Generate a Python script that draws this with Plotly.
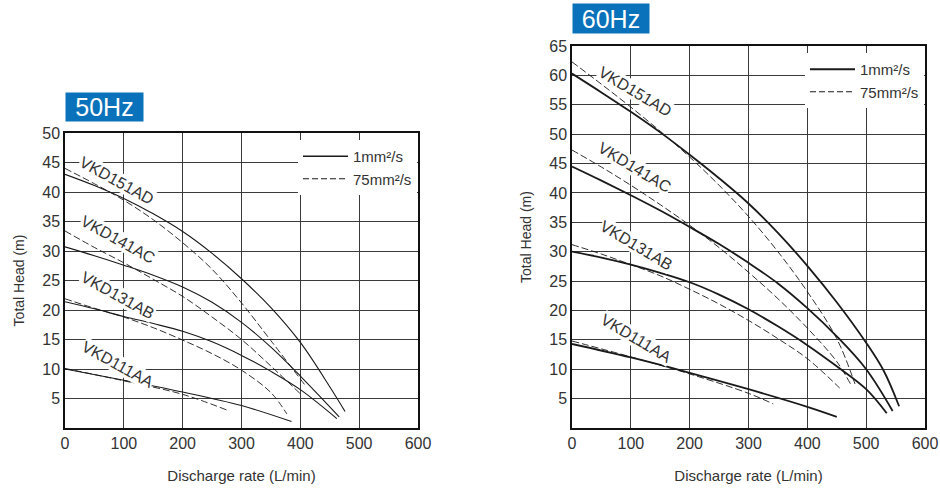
import plotly.graph_objects as go
from plotly.subplots import make_subplots

# ---------------- data ----------------
x_ticks = [0, 100, 200, 300, 400, 500, 600]

# 50 Hz, 1 mm2/s (solid)
hz50_151AD_x = [0, 50, 100, 150, 200, 250, 300, 350, 400, 450, 476]
hz50_151AD_y = [43, 41.1, 38.9, 36.3, 33.3, 29.6, 25.3, 20.4, 14.5, 7.0, 2.8]
hz50_141AC_x = [0, 50, 100, 150, 200, 250, 300, 350, 400, 466]
hz50_141AC_y = [30.7, 29.2, 27.6, 25.9, 23.9, 21.3, 17.9, 13.7, 8.8, 1.9]
hz50_131AB_x = [0, 50, 100, 150, 200, 250, 300, 350, 400, 462]
hz50_131AB_y = [21.4, 20.2, 18.9, 17.7, 16.4, 14.6, 12.3, 9.6, 6.5, 1.6]
hz50_111AA_x = [0, 100, 200, 300, 385]
hz50_111AA_y = [10, 8.1, 6.1, 3.8, 1.1]
# 50 Hz, 75 mm2/s (dashed)
hz50_151AD_vx = [0, 50, 100, 150, 200, 250, 300, 350, 410]
hz50_151AD_vy = [44, 41.4, 38.6, 35.3, 31.4, 26.9, 21.2, 14.8, 7]
hz50_141AC_vx = [0, 50, 100, 150, 200, 250, 300, 350, 400]
hz50_141AC_vy = [33.4, 30.6, 28, 25.2, 22.3, 18.8, 15, 10.5, 5.8]
hz50_131AB_vx = [0, 50, 100, 150, 200, 250, 300, 350, 377]
hz50_131AB_vy = [21.9, 20.3, 18.8, 17, 14.9, 12.6, 9.8, 6.0, 2.4]
hz50_111AA_vx = [0, 100, 200, 275]
hz50_111AA_vy = [10.1, 8.0, 5.7, 3.05]

# 60 Hz, 1 mm2/s (solid)
hz60_151AD_x = [0, 50, 100, 150, 200, 250, 300, 350, 400, 450, 500, 530, 556]
hz60_151AD_y = [60.3, 57.1, 53.8, 50.3, 46.5, 42.5, 38.2, 33.2, 27.6, 21.4, 14.5, 9.7, 3.7]
hz60_141AC_x = [0, 50, 100, 150, 200, 250, 300, 350, 400, 450, 500, 545]
hz60_141AC_y = [44.5, 42.1, 39.6, 37.0, 34.2, 31.3, 28.1, 24.6, 20.4, 15.6, 10.0, 2.9]
hz60_131AB_x = [0, 50, 100, 150, 200, 250, 300, 350, 400, 450, 500, 535]
hz60_131AB_y = [30, 29, 27.8, 26.4, 24.8, 22.7, 20.2, 17.3, 14.1, 10.5, 6.6, 2.5]
hz60_111AA_x = [0, 100, 200, 300, 400, 450]
hz60_111AA_y = [14.3, 12, 9.4, 6.6, 3.6, 1.9]
# 60 Hz, 75 mm2/s (dashed)
hz60_151AD_vx = [0, 50, 100, 150, 200, 250, 300, 350, 400, 450, 481]
hz60_151AD_vy = [62.3, 58.5, 54.6, 50.5, 46.1, 41.3, 36.0, 30.0, 23.2, 15.2, 7.5]
hz60_141AC_vx = [0, 50, 100, 150, 200, 250, 300, 350, 400, 450, 475]
hz60_141AC_vy = [47.3, 44.4, 41.3, 38.0, 34.5, 30.7, 26.5, 22.0, 17, 11.3, 7.2]
hz60_131AB_vx = [0, 50, 100, 150, 200, 250, 300, 350, 400, 455]
hz60_131AB_vy = [31.2, 29.6, 27.8, 25.9, 23.6, 21.1, 18.3, 15.2, 11.8, 6.8]
hz60_111AA_vx = [0, 100, 200, 300, 342]
hz60_111AA_vy = [14.8, 12.1, 9.2, 5.9, 4.1]

model_names = ["VKD151AD", "VKD141AC", "VKD131AB", "VKD111AA"]
label50_x = [88, 90, 90, 90]
label50_y = [42, 31.9, 22.4, 10.7]
label60_x = [107, 107, 110, 110]
label60_y = [57.2, 44.4, 31.1, 15.3]

legend_names = ["1mm²/s", "75mm²/s"]

# ---------------- figure ----------------
W, H = 940, 489
fig = make_subplots(rows=1, cols=2)

ink = "#1a1a1a"
txt = "#333333"

sets50 = [
    (hz50_151AD_x, hz50_151AD_y, hz50_151AD_vx, hz50_151AD_vy),
    (hz50_141AC_x, hz50_141AC_y, hz50_141AC_vx, hz50_141AC_vy),
    (hz50_131AB_x, hz50_131AB_y, hz50_131AB_vx, hz50_131AB_vy),
    (hz50_111AA_x, hz50_111AA_y, hz50_111AA_vx, hz50_111AA_vy),
]
sets60 = [
    (hz60_151AD_x, hz60_151AD_y, hz60_151AD_vx, hz60_151AD_vy),
    (hz60_141AC_x, hz60_141AC_y, hz60_141AC_vx, hz60_141AC_vy),
    (hz60_131AB_x, hz60_131AB_y, hz60_131AB_vx, hz60_131AB_vy),
    (hz60_111AA_x, hz60_111AA_y, hz60_111AA_vx, hz60_111AA_vy),
]

for col, sets, w_solid in [(1, sets50, 1.1), (2, sets60, 1.8)]:
    for sx, sy, dx, dy in sets:
        fig.add_trace(go.Scatter(x=sx, y=sy, mode="lines",
                                 line=dict(color=ink, width=w_solid, shape="spline", smoothing=1.0),
                                 showlegend=False, hoverinfo="skip"), row=1, col=col)
        fig.add_trace(go.Scatter(x=dx, y=dy, mode="lines",
                                 line=dict(color=ink, width=0.9, dash="7px,3px", shape="spline", smoothing=1.0),
                                 showlegend=False, hoverinfo="skip"), row=1, col=col)

# legend entries
for lg, w in [("legend", 1.3), ("legend2", 1.8)]:
    fig.add_trace(go.Scatter(x=[None], y=[None], mode="lines", name=legend_names[0],
                             line=dict(color=ink, width=w), legend=lg))
    fig.add_trace(go.Scatter(x=[None], y=[None], mode="lines", name=legend_names[1],
                             line=dict(color=ink, width=1, dash="6px,3px"), legend=lg))

font_family = "Liberation Sans, Arial, sans-serif"

# axes
ax_common = dict(showgrid=True, gridcolor="#3a3a3a", gridwidth=1.2, zeroline=False,
                 showline=True, linecolor="#111111", linewidth=1.5, mirror=True, automargin=False,
                 ticks="", tickfont=dict(size=16, color=txt, family=font_family))
fig.update_xaxes(range=[0, 600], tickvals=x_ticks, **ax_common,
                 title=dict(text="Discharge rate (L/min)", font=dict(size=15, color=txt, family=font_family),
                            standoff=20))
fig.update_yaxes(**ax_common, title=dict(text="Total Head (m)", font=dict(size=14, color=txt, family=font_family),
                                         standoff=14))
fig.update_xaxes(domain=[65/W, 418/W], row=1, col=1)
fig.update_xaxes(domain=[572/W, 925/W], row=1, col=2)
fig.update_yaxes(range=[0, 50], tickvals=list(range(5, 51, 5)), domain=[1-428/H, 1-133/H], row=1, col=1)
fig.update_yaxes(range=[0, 65], tickvals=list(range(5, 66, 5)), domain=[1-428/H, 1-46/H], row=1, col=2)

annotations = []
for i, name in enumerate(model_names):
    annotations.append(dict(x=label50_x[i], y=label50_y[i], xref="x", yref="y", text=name,
                            showarrow=False, textangle=29, bgcolor="white",
                            font=dict(size=16, color=txt, family=font_family), borderpad=0))
    annotations.append(dict(x=label60_x[i], y=label60_y[i], xref="x2", yref="y2", text=name,
                            showarrow=False, textangle=31, bgcolor="white",
                            font=dict(size=16, color=txt, family=font_family), borderpad=0))

# frequency badges
annotations.append(dict(x=65/W, y=1-92/H, xref="paper", yref="paper", xanchor="left", yanchor="top",
                        text="50Hz", showarrow=False, bgcolor="#0a72ba", borderpad=2,
                        font=dict(size=25, color="white", family=font_family), width=73, height=24))
annotations.append(dict(x=572/W, y=1-3/H, xref="paper", yref="paper", xanchor="left", yanchor="top",
                        text="60Hz", showarrow=False, bgcolor="#0a72ba", borderpad=2,
                        font=dict(size=25, color="white", family=font_family), width=72, height=25))

legend_style = dict(bgcolor="white", font=dict(size=15, color=txt, family=font_family),
                    xanchor="right", yanchor="top", itemwidth=45, tracegroupgap=0,
                    borderwidth=0)
fig.update_layout(
    width=W, height=H,
    margin=dict(l=0, r=0, t=0, b=0),
    paper_bgcolor="white", plot_bgcolor="white",
    annotations=annotations,
    showlegend=True,
    legend=dict(x=417/W, y=1-140/H, xref="paper", yref="paper", **legend_style),
    legend2=dict(x=924/W, y=1-53/H, xref="paper", yref="paper", **legend_style),
)

fig.write_html("out.html", config={"displayModeBar": False},
               post_script="document.body.style.margin='0';document.body.style.overflow='hidden';")
